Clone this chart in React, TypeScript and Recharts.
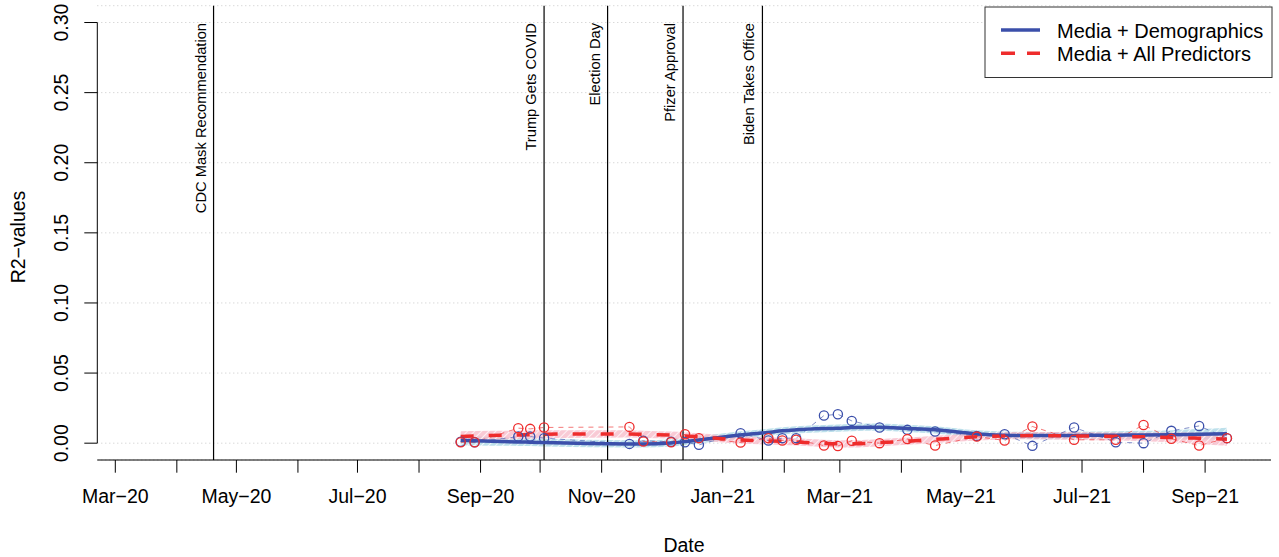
import {
  Area,
  CartesianGrid,
  ComposedChart,
  Line,
  ReferenceLine,
  XAxis,
  YAxis,
} from "recharts";

// survey waves, in days counted from 1 March 2020
const waveDays = [
  174, 181, 203, 209, 216, 259, 266, 280, 287, 294, 315, 329, 336, 343, 357,
  364, 371, 385, 399, 413, 434, 448, 462, 483, 504, 518, 532, 546, 560,
];

// Media + Demographics, R2 per wave
const demoPoints = [
  0.001, 0.0007, 0.0047, 0.0047, 0.0036, -0.0005, 0.0017, 0.001, 0.0007,
  -0.0012, 0.0071, 0.0019, 0.0036, 0.0036, 0.0197, 0.0206, 0.0159, 0.0112,
  0.0095, 0.0083, 0.0052, 0.0064, -0.0019, 0.0112, 0.0007, 0.0, 0.0088, 0.0123,
  0.0036,
];

// Media + All Predictors, R2 per wave
const allPoints = [
  0.0007, 0.0007, 0.0107, 0.0102, 0.0112, 0.0116, 0.0012, 0.0007, 0.0064,
  0.0036, 0.0005, 0.0036, 0.0019, 0.0024, -0.0017, -0.002, 0.0017, 0.0,
  0.0029, -0.0017, 0.0047, 0.0019, 0.0119, 0.0024, 0.0024, 0.013, 0.0031,
  -0.0017, 0.0036,
];

// smoothed trend at each wave
const demoSmooth = [
  0.002, 0.0017, 0.0009, 0.0007, 0.0004, -0.0005, -0.0005, 0.0002, 0.0011,
  0.0023, 0.0059, 0.0077, 0.0088, 0.0095, 0.0104, 0.0107, 0.0111, 0.0114,
  0.0105, 0.0095, 0.0066, 0.0057, 0.0054, 0.0055, 0.0057, 0.0058, 0.006,
  0.0064, 0.0068,
];

const allSmooth = [
  0.0047, 0.0052, 0.0059, 0.0061, 0.0064, 0.0066, 0.0063, 0.0057, 0.0052,
  0.0045, 0.0023, 0.0016, 0.0013, 0.0009, -0.0002, -0.0005, -0.0005, 0.0004,
  0.0014, 0.0027, 0.0045, 0.0052, 0.0054, 0.0052, 0.0048, 0.0045, 0.0041,
  0.0035, 0.0028,
];

// half width of the shaded confidence bands
const demoSpread = [
  0.0036, 0.0033, 0.0029, 0.0028, 0.0027, 0.0026, 0.0026, 0.0026, 0.0026,
  0.0026, 0.0026, 0.0026, 0.0026, 0.0026, 0.0026, 0.0026, 0.0026, 0.0026,
  0.0026, 0.0026, 0.0026, 0.0026, 0.0026, 0.0027, 0.0028, 0.003, 0.0033,
  0.0037, 0.0042,
];

const allSpread = [
  0.0038, 0.0035, 0.003, 0.0029, 0.0028, 0.0026, 0.0026, 0.0026, 0.0026,
  0.0026, 0.0026, 0.0026, 0.0026, 0.0026, 0.0026, 0.0026, 0.0026, 0.0026,
  0.0026, 0.0026, 0.0026, 0.0026, 0.0026, 0.0027, 0.0029, 0.0031, 0.0035,
  0.004, 0.0046,
];

const monthTicks = [
  0, 31, 61, 92, 122, 153, 184, 214, 245, 275, 306, 337, 365, 396, 426, 457,
  487, 518, 549,
];
const monthLabels = [
  "Mar−20", "", "May−20", "", "Jul−20", "", "Sep−20", "", "Nov−20", "",
  "Jan−21", "", "Mar−21", "", "May−21", "", "Jul−21", "", "Sep−21",
];
const valueTicks = [0, 0.05, 0.1, 0.15, 0.2, 0.25, 0.3];

const eventDays = [49.5, 216, 248, 286, 326];
const eventNames = [
  "CDC Mask Recommendation",
  "Trump Gets COVID",
  "Election Day",
  "Pfizer Approval",
  "Biden Takes Office",
];

const BLUE = "#3B4FAA";
const RED = "#EE2C2C";
const FONT = '"Liberation Sans", Arial, Helvetica, sans-serif';
const X_MIN = -9.07;
const X_MAX = 582.2;

const rows = waveDays.map((day, i) => ({
  day,
  demo: demoPoints[i],
  all: allPoints[i],
  demoFit: demoSmooth[i],
  allFit: allSmooth[i],
  demoBand: [demoSmooth[i] - demoSpread[i], demoSmooth[i] + demoSpread[i]],
  allBand: [allSmooth[i] - allSpread[i], allSmooth[i] + allSpread[i]],
}));

function DateTick(props: any) {
  const { x, payload } = props;
  const label = monthLabels[monthTicks.indexOf(payload.value)];
  if (!label) return <g />;
  return (
    <text x={x} y={502.7} textAnchor="middle" fontSize={19.5} fontFamily={FONT} fill="#000">
      {label}
    </text>
  );
}

function ValueTick(props: any) {
  const { y, payload } = props;
  return (
    <text
      x={68.5}
      y={y}
      transform={`rotate(-90 68.5 ${y})`}
      textAnchor="middle"
      fontSize={19.5}
      fontFamily={FONT}
      fill="#000"
    >
      {Number(payload.value).toFixed(2)}
    </text>
  );
}

function eventLabel(name: string) {
  return (props: any) => {
    const vx = props.viewBox ? props.viewBox.x : props.x;
    const bx = vx - 8;
    return (
      <text
        x={bx}
        y={23}
        transform={`rotate(-90 ${bx} 23)`}
        textAnchor="end"
        fontSize={14.7}
        fontFamily={FONT}
        fill="#000"
      >
        {name}
      </text>
    );
  };
}

function ring(color: string) {
  return (p: any) => (
    <circle
      key={`ring-${color}-${p.index}`}
      cx={p.cx}
      cy={p.cy}
      r={4.6}
      fill="none"
      stroke={color}
      strokeWidth={1.3}
    />
  );
}

function Legend() {
  return (
    <svg
      width={292}
      height={76}
      style={{ position: "absolute", left: 983, top: 5 }}
    >
      <rect x={2} y={2} width={287} height={70.5} fill="#fff" stroke="#333" strokeWidth={1} />
      <line x1={18} y1={25} x2={57} y2={25} stroke={BLUE} strokeWidth={3.5} />
      <line x1={18} y1={48.3} x2={57} y2={48.3} stroke={RED} strokeWidth={3.5} strokeDasharray="14 12" />
      <text x={74} y={32.7} fontSize={20} fontFamily={FONT} fill="#000">
        Media + Demographics
      </text>
      <text x={74} y={56} fontSize={20} fontFamily={FONT} fill="#000">
        Media + All Predictors
      </text>
    </svg>
  );
}

export default function App() {
  return (
    <div style={{ position: "absolute", left: 0, top: 0, width: 1279, height: 557, background: "#fff" }}>
      <ComposedChart
        width={1279}
        height={557}
        data={rows}
        margin={{ top: 5.7, right: 8, bottom: 0, left: 0 }}
      >
        <defs>
          <pattern id="hatchBlue" width={5} height={5} patternUnits="userSpaceOnUse" patternTransform="rotate(45)">
            <rect width={5} height={5} fill="#add8e6" fillOpacity={0.8} />
            <line x1={0} y1={0} x2={0} y2={5} stroke="#ffffff" strokeWidth={1.5} />
          </pattern>
          <pattern id="hatchRed" width={5} height={5} patternUnits="userSpaceOnUse" patternTransform="rotate(45)">
            <rect width={5} height={5} fill="#f6b8c6" fillOpacity={0.75} />
            <line x1={0} y1={0} x2={0} y2={5} stroke="#ffffff" strokeWidth={1.5} />
          </pattern>
        </defs>
        <CartesianGrid
          vertical={false}
          stroke="#c8c8c8"
          strokeDasharray="1 3"
        />
        <XAxis
          dataKey="day"
          type="number"
          domain={[X_MIN, X_MAX]}
          allowDataOverflow
          ticks={monthTicks}
          interval={0}
          height={97}
          tickSize={12.7}
          tickMargin={0}
          axisLine={{ stroke: "#000", strokeWidth: 1 }}
          tickLine={{ stroke: "#000", strokeWidth: 1 }}
          tick={<DateTick />}
          label={() => (
            <text x={684} y={552} textAnchor="middle" fontSize={19.5} fontFamily={FONT} fill="#000">
              Date
            </text>
          )}
        />
        <YAxis
          type="number"
          domain={[-0.012, 0.312]}
          allowDataOverflow
          ticks={valueTicks}
          interval={0}
          width={97.3}
          tickSize={13}
          tickMargin={0}
          axisLine={false}
          tickLine={{ stroke: "#000", strokeWidth: 1 }}
          tick={<ValueTick />}
          label={() => (
            <text
              x={25}
              y={237}
              transform="rotate(-90 25 237)"
              textAnchor="middle"
              fontSize={19.5}
              fontFamily={FONT}
              fill="#000"
            >
              R2−values
            </text>
          )}
        />
        <ReferenceLine
          segment={[
            { x: X_MIN, y: 0 },
            { x: X_MIN, y: 0.3 },
          ]}
          stroke="#000"
          strokeWidth={1}
          ifOverflow="visible"
        />
        {eventDays.map((d, i) => (
          <ReferenceLine
            key={eventNames[i]}
            x={d}
            stroke="#000"
            strokeWidth={1.2}
            label={eventLabel(eventNames[i])}
          />
        ))}
        <Area
          type="monotone"
          dataKey="demoBand"
          stroke="none"
          fill="url(#hatchBlue)"
          fillOpacity={1}
          isAnimationActive={false}
          activeDot={false}
        />
        <Area
          type="monotone"
          dataKey="allBand"
          stroke="none"
          fill="url(#hatchRed)"
          fillOpacity={1}
          isAnimationActive={false}
          activeDot={false}
        />
        <Line
          type="linear"
          dataKey="demo"
          stroke={BLUE}
          strokeWidth={0.8}
          strokeOpacity={0.8}
          strokeDasharray="5 5"
          dot={ring(BLUE)}
          activeDot={false}
          isAnimationActive={false}
        />
        <Line
          type="linear"
          dataKey="all"
          stroke={RED}
          strokeWidth={0.8}
          strokeOpacity={0.8}
          strokeDasharray="5 5"
          dot={ring(RED)}
          activeDot={false}
          isAnimationActive={false}
        />
        <Line
          type="monotone"
          dataKey="demoFit"
          stroke={BLUE}
          strokeWidth={3.5}
          dot={false}
          activeDot={false}
          isAnimationActive={false}
        />
        <Line
          type="monotone"
          dataKey="allFit"
          stroke={RED}
          strokeWidth={3.5}
          strokeDasharray="13 15"
          dot={false}
          activeDot={false}
          isAnimationActive={false}
        />
      </ComposedChart>
      <Legend />
    </div>
  );
}
